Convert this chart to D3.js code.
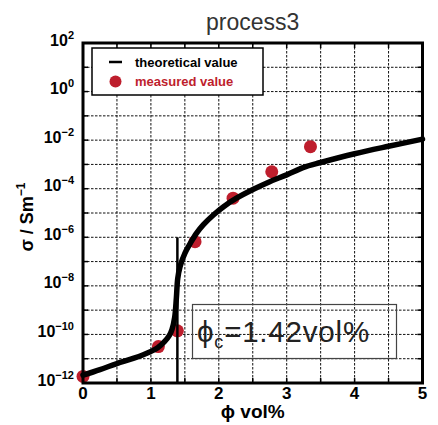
<!DOCTYPE html>
<html>
<head>
<meta charset="utf-8">
<script src="https://cdn.jsdelivr.net/npm/d3@7"></script>
<style>
  body { margin: 0; background: #fff; }
  text { font-family: "Liberation Sans", Arial, sans-serif; }
</style>
</head>
<body>
<div id="chart"></div>
<script>
// theoretical curve (phi vol%, sigma S/m)
const curvePhi = [0, 0.25, 0.5, 0.75, 1.0, 1.1, 1.2, 1.27, 1.31, 1.35, 1.375, 1.395, 1.43, 1.50, 1.58, 1.67, 1.77, 1.92, 2.07, 2.26, 2.51, 2.75, 3.0, 3.25, 3.5, 4.0, 4.5, 5.0];
const curveSigma = [2.09e-12, 3.55e-12, 6.31e-12, 1.05e-11, 2.0e-11, 2.82e-11, 5.01e-11, 8.9e-11, 1.58e-10, 5.0e-10, 3.16e-9, 2.0e-8, 6.3e-8, 2.19e-7, 5.6e-7, 1.45e-6, 3.24e-6, 8.3e-6, 1.82e-5, 4.07e-5, 9.5e-5, 1.95e-4, 3.72e-4, 7.6e-4, 1.2e-3, 2.75e-3, 5.6e-3, 1.1e-2];

// measured values
const measuredPhi = [0, 1.11, 1.39, 1.65, 2.21, 2.78, 3.35];
const measuredSigma = [1.86e-12, 3.16e-11, 1.41e-10, 6.6e-7, 4.07e-5, 5.0e-4, 5.4e-3];

// percolation threshold marker
const thresholdPhi = 1.39;
const thresholdRange = [1e-12, 1e-6];

const xTicks = [0, 1, 2, 3, 4, 5];
const yTickExps = [2, 0, -2, -4, -6, -8, -10, -12];

const W = 438, H = 425;
const pL = 83, pR = 422.5, pT = 43, pB = 383;

const svg = d3.select('#chart').append('svg')
    .attr('width', W)
    .attr('height', H);

const x = d3.scaleLinear().domain([0, 5]).range([pL, pR]);
const y = d3.scaleLog().domain([1e-12, 1e2]).range([pB, pT]);

// grid
const xGrid = d3.range(1, 10).map(i => i * 0.5);
const yGrid = d3.range(-11, 2).map(e => Math.pow(10, e));

svg.append('g').selectAll('line')
    .data(xGrid)
    .enter().append('line')
    .attr('x1', d => x(d)).attr('x2', d => x(d))
    .attr('y1', pT).attr('y2', pB)
    .attr('stroke', '#111').attr('stroke-width', 1)
    .attr('stroke-dasharray', '2.5,1.5');

svg.append('g').selectAll('line')
    .data(yGrid)
    .enter().append('line')
    .attr('x1', pL).attr('x2', pR)
    .attr('y1', d => y(d)).attr('y2', d => y(d))
    .attr('stroke', '#111').attr('stroke-width', 1)
    .attr('stroke-dasharray', '2.5,1.5');

// inward ticks on all sides
const tk = 5;
const ticksG = svg.append('g').attr('stroke', '#000').attr('stroke-width', 1.5);
xGrid.forEach(v => {
    ticksG.append('line').attr('x1', x(v)).attr('x2', x(v)).attr('y1', pB).attr('y2', pB - tk);
    ticksG.append('line').attr('x1', x(v)).attr('x2', x(v)).attr('y1', pT).attr('y2', pT + tk);
});
yGrid.forEach(v => {
    ticksG.append('line').attr('x1', pL).attr('x2', pL + tk).attr('y1', y(v)).attr('y2', y(v));
    ticksG.append('line').attr('x1', pR).attr('x2', pR - tk).attr('y1', y(v)).attr('y2', y(v));
});

// annotation box (transparent)
svg.append('rect')
    .attr('x', 192.5).attr('y', 304.5)
    .attr('width', 204).attr('height', 54)
    .attr('fill', 'none')
    .attr('stroke', '#444').attr('stroke-width', 1.2);

const ann = svg.append('text')
    .attr('x', 197).attr('y', 342)
    .attr('font-family', '"Noto Sans", sans-serif')
    .attr('font-size', 29.5)
    .attr('letter-spacing', 0.8)
    .attr('fill', '#222');
ann.append('tspan').text('ϕ');
ann.append('tspan').attr('font-size', 18).attr('dy', 6).text('c');
ann.append('tspan').attr('dy', -6).text('=1.42vol%');

// measured dots
svg.append('g').selectAll('circle')
    .data(measuredPhi.map((p, i) => [p, measuredSigma[i]]))
    .enter().append('circle')
    .attr('cx', d => x(d[0]))
    .attr('cy', d => y(d[1]))
    .attr('r', 6.5)
    .attr('fill', '#be1e2d');

// threshold line
svg.append('line')
    .attr('x1', x(thresholdPhi)).attr('x2', x(thresholdPhi))
    .attr('y1', y(thresholdRange[1])).attr('y2', y(thresholdRange[0]))
    .attr('stroke', '#000').attr('stroke-width', 2.5);

// theoretical curve
const line = d3.line()
    .x(d => x(d[0]))
    .y(d => y(d[1]))
    .curve(d3.curveCatmullRom.alpha(0.5));

svg.append('path')
    .datum(curvePhi.map((p, i) => [p, curveSigma[i]]))
    .attr('d', line)
    .attr('fill', 'none')
    .attr('stroke', '#000')
    .attr('stroke-width', 5.5)
    .attr('stroke-linecap', 'round');

// frame
svg.append('rect')
    .attr('x', pL).attr('y', pT)
    .attr('width', pR - pL).attr('height', pB - pT)
    .attr('fill', 'none')
    .attr('stroke', '#000').attr('stroke-width', 3);

// legend
const lg = svg.append('g');
lg.append('rect')
    .attr('x', 92).attr('y', 48)
    .attr('width', 171).attr('height', 47)
    .attr('fill', '#fff')
    .attr('stroke', '#000').attr('stroke-width', 1.5);
lg.append('line')
    .attr('x1', 109).attr('x2', 122).attr('y1', 62).attr('y2', 62)
    .attr('stroke', '#000').attr('stroke-width', 2.5);
lg.append('text')
    .attr('x', 135).attr('y', 66.5)
    .attr('font-size', 13).attr('font-weight', 'bold')
    .attr('fill', '#000')
    .text('theoretical value');
lg.append('circle')
    .attr('cx', 115.5).attr('cy', 81.5).attr('r', 6)
    .attr('fill', '#be1e2d');
lg.append('text')
    .attr('x', 135).attr('y', 86)
    .attr('font-size', 13).attr('font-weight', 'bold')
    .attr('fill', '#be1e2d')
    .text('measured value');

// x tick labels
svg.append('g').selectAll('text')
    .data(xTicks)
    .enter().append('text')
    .attr('x', d => x(d))
    .attr('y', 399)
    .attr('text-anchor', 'middle')
    .attr('font-size', 17).attr('font-weight', 'bold')
    .text(d => d);

// y tick labels
yTickExps.forEach(e => {
    const t = svg.append('text')
        .attr('x', 74)
        .attr('y', y(Math.pow(10, e)) + 2.5)
        .attr('text-anchor', 'end')
        .attr('font-size', 16).attr('font-weight', 'bold');
    t.append('tspan').text('10');
    t.append('tspan').attr('font-size', 11).attr('dy', -7)
        .text(e < 0 ? '\u2212' + (-e) : String(e));
});

// axis titles
svg.append('text')
    .attr('x', (pL + pR) / 2)
    .attr('y', 418)
    .attr('text-anchor', 'middle')
    .attr('font-size', 19).attr('font-weight', 'bold')
    .text('ϕ vol%');

const yl = svg.append('text')
    .attr('transform', 'translate(33,217) rotate(-90)')
    .attr('text-anchor', 'middle')
    .attr('font-size', 18).attr('font-weight', 'bold');
yl.append('tspan').text('σ / Sm');
yl.append('tspan').attr('font-size', 12).attr('dy', -8).text('\u22121');

// title
svg.append('text')
    .attr('x', (pL + pR) / 2)
    .attr('y', 30)
    .attr('text-anchor', 'middle')
    .attr('font-family', '"Noto Sans", sans-serif')
    .attr('font-size', 23)
    .attr('fill', '#333')
    .text('process3');
</script>
</body>
</html>
